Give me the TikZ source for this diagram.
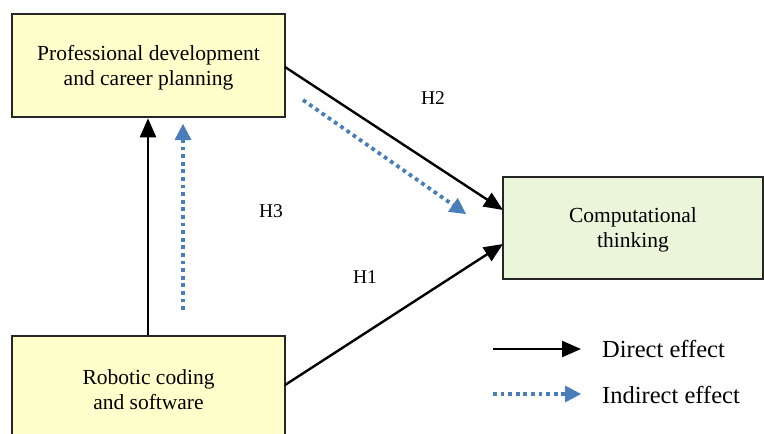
\documentclass[tikz,border=0pt]{standalone}
\usepackage{fontspec}
\setmainfont{Liberation Serif}
\usetikzlibrary{arrows.meta}
\definecolor{boxyellow}{HTML}{FFFFCC}
\definecolor{boxgreen}{HTML}{EBF5D9}
\definecolor{dotblue}{HTML}{4A7EBB}
\tikzset{
  varbox/.style={draw=black!85, line width=2.5pt, inner sep=0pt, align=center, font=\fontsize{21.5}{25}\selectfont},
  direct/.style={draw=black, line width=2.4pt, -{Triangle[length=19pt,width=16pt]}},
  indirect/.style={draw=dotblue, line width=3.8pt, dash pattern=on 3.8pt off 3.8pt, -{Triangle[length=16pt,width=17pt,line width=0pt]}},
  hlabel/.style={font=\fontsize{19.5}{22}\selectfont, inner sep=0pt},
  legtext/.style={font=\fontsize{24.5}{27}\selectfont, anchor=west, inner sep=0pt}
}
\begin{document}
\begin{tikzpicture}[x=1pt,y=-1pt]
\useasboundingbox (0,0) rectangle (764,434);
\begin{scope}
\clip (0,0) rectangle (764,434);
\node[varbox, fill=boxyellow, minimum width=273pt, minimum height=103pt] (pd) at (148.5,65.5) {};
\node[font=\fontsize{21.5}{25}\selectfont, align=center] (pdt) at (148.5,68) {Professional development\\and career planning};
\node[varbox, fill=boxyellow, minimum width=273pt, minimum height=104pt] (rc) at (148.5,388) {};
\node[font=\fontsize{21.5}{25}\selectfont, align=center] (rct) at (148.5,390) {Robotic coding\\and software};
\node[varbox, fill=boxgreen, minimum width=260pt, minimum height=102pt] (ct) at (633,228) {};
\node[font=\fontsize{21.5}{25}\selectfont, align=center] (ctt) at (633,230) {Computational\\thinking};
\end{scope}
% direct effects
\draw[direct] (rc.north -| 148,0) -- (pd.south -| 148,0);
\draw[direct] (285,67) coordinate (a2) -- (503,210) coordinate (b2);
\draw[direct] (285,385) coordinate (a1) -- (503,244) coordinate (b1);
% indirect effects
\coordinate (i1s) at (183,310);
\coordinate (i1e) at (183,124);
\draw[indirect] (i1s) -- (i1e);
\coordinate (i2s) at (303,100);
\coordinate (i2e) at (466,214);
\draw[indirect] (i2s) -- (i2e);
% labels
\node[hlabel] (h2) at (433,98) {H2};
\node[hlabel] (h3) at (271,211) {H3};
\node[hlabel] (h1) at (365,277) {H1};
% legend
\coordinate (l1s) at (493,349);
\coordinate (l1e) at (581,349);
\draw[direct] (l1s) -- (l1e);
\node[legtext] (l1t) at (602,349) {Direct effect};
\coordinate (l2s) at (493,394);
\coordinate (l2e) at (581,394);
\draw[indirect] (l2s) -- (l2e);
\node[legtext] (l2t) at (602,395) {Indirect effect};
\end{tikzpicture}
\end{document}
